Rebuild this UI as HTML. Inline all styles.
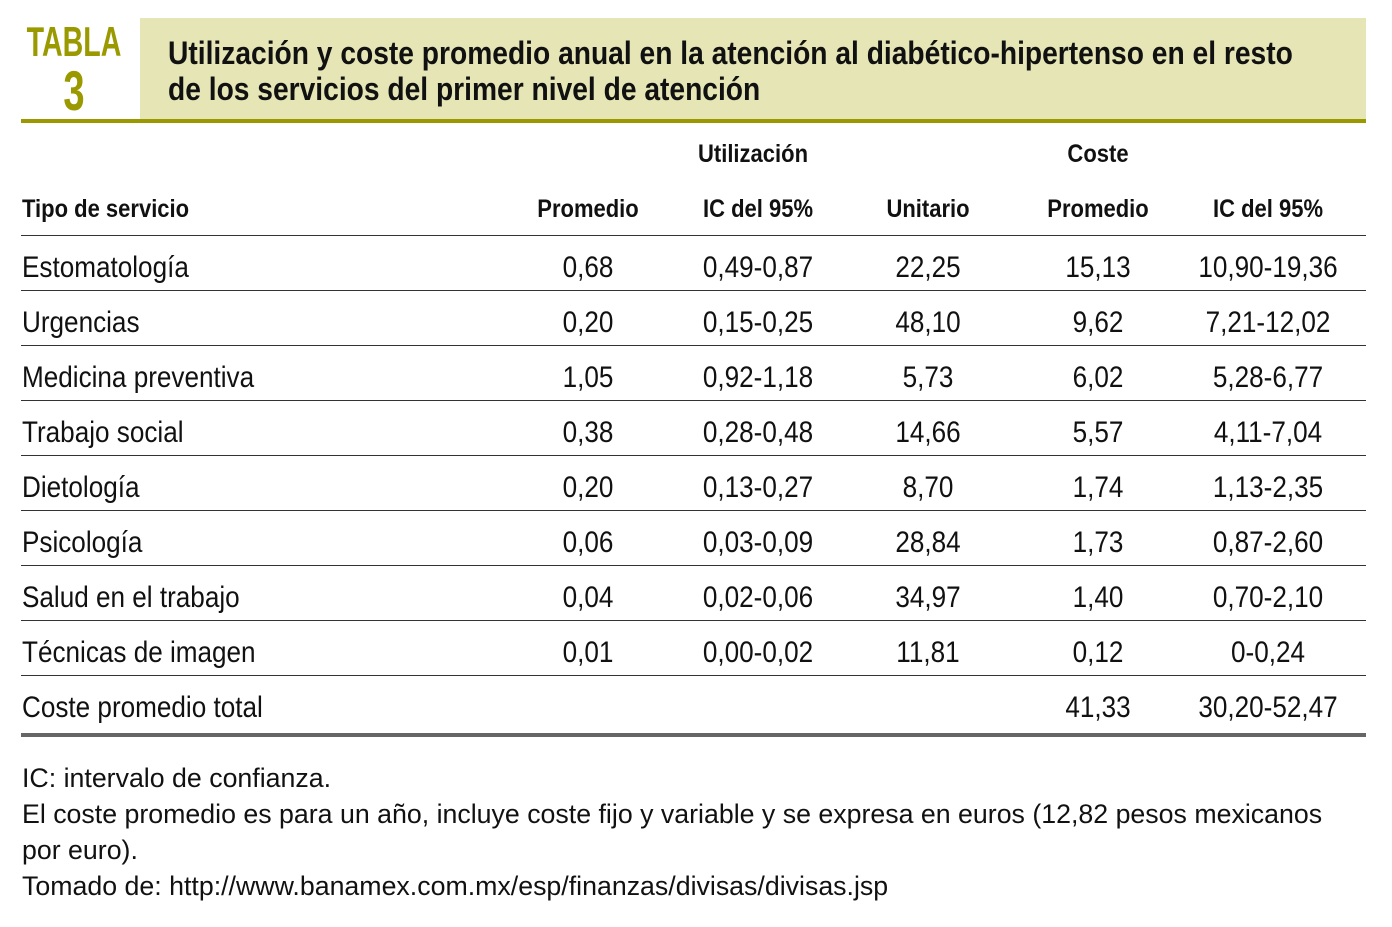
<!DOCTYPE html>
<html><head><meta charset="utf-8"><style>
body{margin:0;width:1392px;height:927px;background:#fff;position:relative;overflow:hidden;font-family:"Liberation Sans",sans-serif;color:#111}
.a{position:absolute;white-space:nowrap}
.l{transform-origin:0 0}
.row{font-size:30px;line-height:1}
.row.l{transform:scaleX(0.87)}
.row.c{transform:translateX(-50%) scaleX(0.87)}
.hd{font-size:25px;font-weight:bold;line-height:1}
.hd.l{transform:scaleX(0.88)}
.hd.c{transform:translateX(-50%) scaleX(0.88)}
.ln{position:absolute;left:21px;width:1345px;height:1px;background:#333}
.fn{font-size:27px;line-height:36px;transform:scaleX(0.99)}
</style></head><body>
<div class="a" style="left:74px;top:21px;font-size:42px;font-weight:bold;color:#9a9a00;line-height:1;text-align:center;transform:translateX(-50%) scaleX(0.68)">TABLA<br><span style="font-size:56px">3</span></div>
<div class="a" style="left:140px;top:18px;width:1226px;height:101px;background:#e5e5b5"></div>
<div class="a l" style="left:168px;top:35px;font-size:32px;font-weight:bold;line-height:36px;transform:scaleX(0.881)">Utilización y coste promedio anual en la atención al diabético-hipertenso en el resto<br>de los servicios del primer nivel de atención</div>
<div class="a" style="left:21px;top:119px;width:1345px;height:4px;background:#9a9a00"></div>
<div class="a hd c" style="left:753px;top:142px">Utilización</div>
<div class="a hd c" style="left:1098px;top:142px">Coste</div>
<div class="a hd l" style="left:22px;top:197px">Tipo de servicio</div>
<div class="a hd c" style="left:588px;top:197px">Promedio</div>
<div class="a hd c" style="left:758px;top:197px">IC del 95%</div>
<div class="a hd c" style="left:928px;top:197px">Unitario</div>
<div class="a hd c" style="left:1098px;top:197px">Promedio</div>
<div class="a hd c" style="left:1268px;top:197px">IC del 95%</div>
<div id="rows"></div>
<div class="a" style="left:21px;top:733px;width:1345px;height:4px;background:#666"></div>
<div class="a fn l" style="left:22px;top:760px">IC: intervalo de confianza.</div>
<div class="a fn l" style="left:22px;top:796px">El coste promedio es para un año, incluye coste fijo y variable y se expresa en euros (12,82 pesos mexicanos<br>por euro).</div>
<div class="a fn l" style="left:22px;top:868px">Tomado de: http://www.banamex.com.mx/esp/finanzas/divisas/divisas.jsp</div>
<script>
const rows=[
["Estomatología","0,68","0,49-0,87","22,25","15,13","10,90-19,36"],
["Urgencias","0,20","0,15-0,25","48,10","9,62","7,21-12,02"],
["Medicina preventiva","1,05","0,92-1,18","5,73","6,02","5,28-6,77"],
["Trabajo social","0,38","0,28-0,48","14,66","5,57","4,11-7,04"],
["Dietología","0,20","0,13-0,27","8,70","1,74","1,13-2,35"],
["Psicología","0,06","0,03-0,09","28,84","1,73","0,87-2,60"],
["Salud en el trabajo","0,04","0,02-0,06","34,97","1,40","0,70-2,10"],
["Técnicas de imagen","0,01","0,00-0,02","11,81","0,12","0-0,24"],
["Coste promedio total","","","","41,33","30,20-52,47"]];
const cx=[588,758,928,1098,1268];
const host=document.getElementById('rows');
rows.forEach((r,i)=>{
 const top=236+i*55;
 const l=document.createElement('div');l.className='ln';l.style.top=(i==0?235:top-1)+'px';
 
 
 host.appendChild(l);
 const n=document.createElement('div');n.className='a row l';n.style.left='22px';n.style.top=(top+17)+'px';n.textContent=r[0];
 
 
 host.appendChild(n);
 for(let j=1;j<6;j++){if(!r[j])continue;
  const d=document.createElement('div');d.className='a row c';d.style.left=cx[j-1]+'px';d.style.top=(top+17)+'px';d.textContent=r[j];
  
  
  host.appendChild(d);}
});
</script>
</body></html>
